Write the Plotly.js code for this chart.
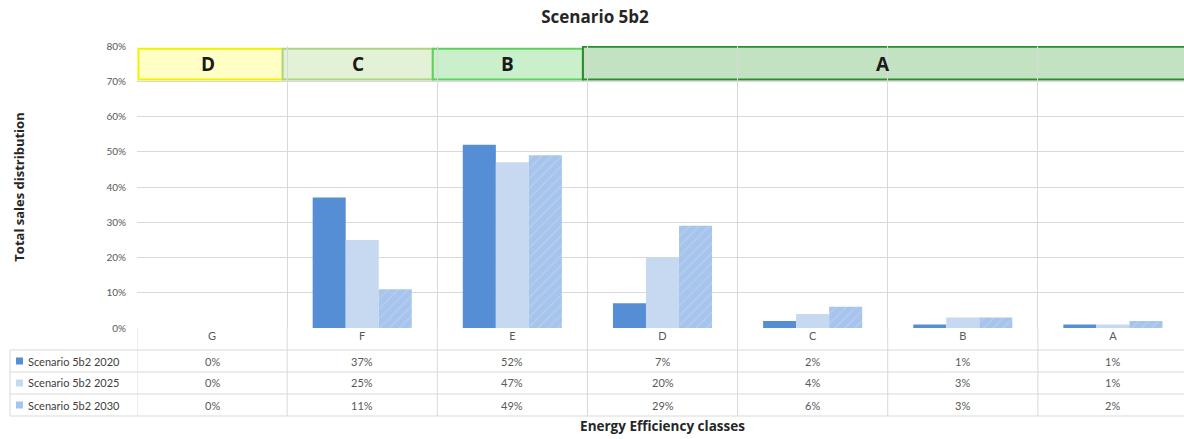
<!DOCTYPE html>
<html>
<head>
<meta charset="utf-8">
<script src="https://cdn.plot.ly/plotly-3.0.1.min.js"></script>
<style>
html,body{margin:0;padding:0;overflow:hidden;background:#fff;}
#chart{width:1190px;height:439px;}
</style>
</head>
<body>
<div id="chart"></div>
<script>
// ---- data ----
const categories = ['G','F','E','D','C','B','A'];
const seriesNames = ['Scenario 5b2 2020','Scenario 5b2 2025','Scenario 5b2 2030'];
const values2020 = [0.00,0.37,0.52,0.07,0.02,0.01,0.01];
const values2025 = [0.00,0.25,0.47,0.20,0.04,0.03,0.01];
const values2030 = [0.00,0.11,0.49,0.29,0.06,0.03,0.02];
const yTicks = [0,0.1,0.2,0.3,0.4,0.5,0.6,0.7,0.8];
// rescaled label bands: new label, first and last old category index covered
const bandLabels = ['D','C','B','A'];
const bandStart = [0,1,2,3];
const bandEnd = [0,1,2,6];

// ---- styles ----
const FONT = 'Lato, "Open Sans", sans-serif';
const TFONT = '"Open Sans", Lato, sans-serif';
const seriesColors = ['#558ED5','#C6D9F1','#A6C4EC'];
const bandFill = ['#FFFFC6','#E3F1D6','#C9F0CA','rgba(120,190,120,0.45)'];
const bandLine = ['#F2F200','#A9D681','#5DD05D','#2E8B2E'];
const gridCol = '#D9D9D9';

// plot geometry (pixels)
const W = 1190, H = 439, L = 137, R = 2, T = 46, B = 111;
const plotH = H - T - B, plotW = W - L - R;
const py = p => ( (H - B) - p ) / plotH;     // pixel y -> paper y
const px = p => (p - L) / plotW;             // pixel x -> paper x

const allSeries = [values2020, values2025, values2030];
const traces = allSeries.map((vals, i) => {
  const t = {
    type: 'bar', x: categories, y: vals, name: seriesNames[i],
    marker: {color: seriesColors[i], line: {width: 0}},
    hoverinfo: 'x+y+name'
  };
  if (i === 2) t.marker.pattern = {shape: '/', fgcolor: '#B4CDF0', bgcolor: seriesColors[i], size: 7, solidity: 0.25};
  return t;
});

const shapes = [];
const annotations = [];

// bands
bandLabels.forEach((lab, i) => {
  const last = i === bandLabels.length - 1;
  shapes.push({
    type: 'rect', xref: 'x', yref: 'y', layer: 'below',
    x0: bandStart[i] - (i === 0 ? 0.49 : 0.53), x1: bandEnd[i] + (last ? 0.52 : 0.47),
    y0: 0.705, y1: last ? 0.798 : 0.792,
    fillcolor: bandFill[i], line: {color: bandLine[i], width: 2}
  });
  annotations.push({
    xref: 'x', yref: 'y', x: (bandStart[i] + bandEnd[i]) / 2 - 0.03, y: 0.75,
    text: '<b>' + lab + '</b>', showarrow: false,
    font: {family: TFONT, size: 19, color: '#1A1A1A'}
  });
});

// data table
const rowLines = [350, 372, 394, 416];
rowLines.forEach(p => {
  shapes.push({type: 'line', xref: 'paper', yref: 'paper', x0: px(10), x1: 1, y0: py(p), y1: py(p),
    line: {color: gridCol, width: 1}});
});
// left border of legend column
shapes.push({type: 'line', xref: 'paper', yref: 'paper', x0: px(10), x1: px(10), y0: py(350), y1: py(416),
  line: {color: gridCol, width: 1}});
// category column borders extending into table
for (let i = 0; i <= categories.length; i++) {
  shapes.push({type: 'line', xref: 'x', yref: 'paper', x0: i - 0.5, x1: i - 0.5, y0: 0, y1: py(416),
    line: {color: gridCol, width: 1}});
}
const rowCenters = [361, 383, 405];
allSeries.forEach((vals, r) => {
  // legend swatch
  shapes.push({type: 'rect', xref: 'paper', yref: 'paper',
    x0: px(16), x1: px(23), y0: py(rowCenters[r] + 3.5), y1: py(rowCenters[r] - 3.5),
    fillcolor: seriesColors[r], line: {width: 0}});
  annotations.push({xref: 'paper', yref: 'paper', x: px(26), y: py(rowCenters[r]),
    xanchor: 'left', yanchor: 'middle', text: seriesNames[r], showarrow: false,
    font: {family: FONT, size: 11, color: '#404040'}});
  vals.forEach((v, c) => {
    annotations.push({xref: 'x', yref: 'paper', x: categories[c], y: py(rowCenters[r]),
      yanchor: 'middle', text: Math.round(v * 100) + '%', showarrow: false,
      font: {family: FONT, size: 11, color: '#595959'}});
  });
});

const layout = {
  width: W, height: H,
  margin: {l: L, r: R, t: T, b: B},
  paper_bgcolor: '#fff', plot_bgcolor: '#fff',
  font: {family: FONT, color: '#595959'},
  title: {text: '<b>Scenario 5b2</b>', x: 595 / W, xref: 'container', xanchor: 'center',
    y: 1 - 17 / H, yref: 'container', yanchor: 'middle',
    font: {family: TFONT, size: 17, color: '#262626'}},
  barmode: 'group', bargap: 0.34, bargroupgap: 0,
  showlegend: false,
  xaxis: {
    type: 'category', categoryarray: categories, range: [-0.5, 6.5], tickson: 'boundaries',
    showgrid: true, gridcolor: gridCol, gridwidth: 1, ticks: '', showline: false, zeroline: false,
    tickfont: {family: FONT, size: 11, color: '#595959'}, automargin: false,
    title: {text: '<b>Energy Efficiency classes</b>', standoff: 80,
      font: {family: TFONT, size: 13.5, color: '#262626'}}
  },
  yaxis: {
    range: [0, 0.8], tickvals: yTicks, tickformat: '.0%',
    showgrid: true, gridcolor: gridCol, gridwidth: 1, zeroline: false, showline: false,
    ticks: '', ticklabelstandoff: 10,
    tickfont: {family: FONT, size: 10, color: '#595959'}, automargin: false,
    title: {text: '<b>Total sales distribution</b>', standoff: 78,
      font: {family: TFONT, size: 13, color: '#262626'}}
  },
  shapes: shapes,
  annotations: annotations
};

Plotly.newPlot('chart', traces, layout, {displayModeBar: false, staticPlot: true});
</script>
</body>
</html>
